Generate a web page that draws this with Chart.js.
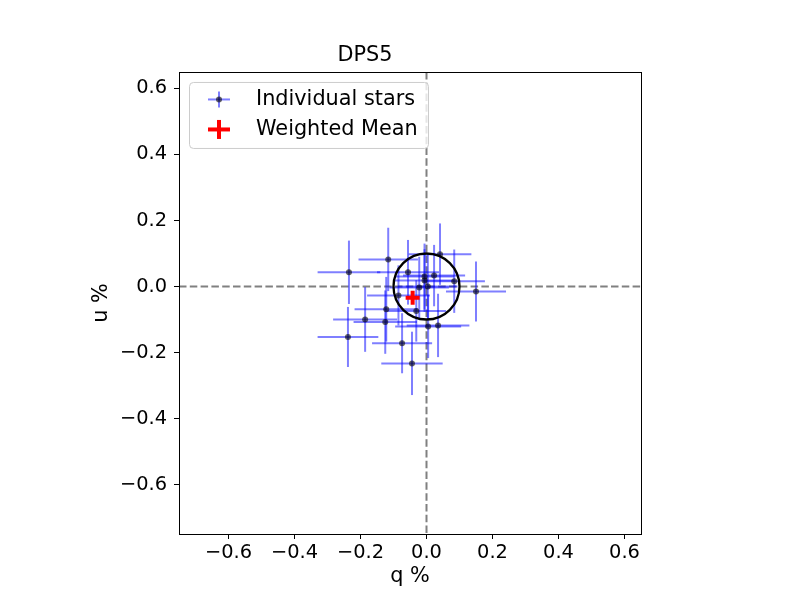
<!DOCTYPE html>
<html><head><meta charset="utf-8">
<script src="https://cdn.jsdelivr.net/npm/chart.js@4.4.1/dist/chart.umd.min.js"></script>
<style>html,body{margin:0;padding:0;background:#fff}canvas{display:block}</style>
</head><body>
<canvas id="c" width="800" height="600"></canvas>
<script>
const TITLE = 'DPS5';
const X_LABEL = 'q %';
const Y_LABEL = 'u %';
const TICKS = [-0.6, -0.4, -0.2, 0.0, 0.2, 0.4, 0.6];
const AXIS_MIN = -0.75, AXIS_MAX = 0.65;
const LEGEND_LABELS = ['Individual stars', 'Weighted Mean'];

const STAR_Q    = [-0.235, -0.116, -0.056, 0.041, 0.023, -0.006, -0.006, 0.084, 0.004, -0.022, -0.085, 0.150, -0.122, -0.031, -0.186, -0.125, 0.005, 0.035, -0.238, -0.074, -0.044];
const STAR_U    = [0.043, 0.082, 0.043, 0.098, 0.033, 0.030, 0.018, 0.016, 0.000, -0.003, -0.027, -0.015, -0.069, -0.074, -0.100, -0.108, -0.121, -0.118, -0.153, -0.172, -0.233];
const STAR_QERR = [0.095, 0.090, 0.094, 0.095, 0.094, 0.090, 0.090, 0.093, 0.090, 0.090, 0.095, 0.091, 0.096, 0.090, 0.097, 0.096, 0.100, 0.095, 0.092, 0.091, 0.093];
const STAR_UERR = [0.096, 0.096, 0.098, 0.093, 0.093, 0.100, 0.095, 0.096, 0.098, 0.093, 0.091, 0.091, 0.098, 0.093, 0.098, 0.096, 0.096, 0.096, 0.091, 0.091, 0.096];

const MEAN_Q = [-0.042];
const MEAN_U = [-0.034];
const CIRCLE_R = 0.1;

const FONT = 'DejaVu Sans';
const BIG = 20.8, TICK = 19.4;
const fmt = v => (v < -1e-9 ? '\u2212' : '') + Math.abs(v).toFixed(1);

const bgPlugin = {
  id: 'bg',
  beforeDraw(chart) {
    const c = chart.ctx;
    c.save(); c.fillStyle = '#fff'; c.fillRect(0, 0, chart.width, chart.height); c.restore();
  }
};

const underlay = {
  id: 'underlay',
  beforeDatasetsDraw(chart) {
    const c = chart.ctx, ca = chart.chartArea, xs = chart.scales.x, ys = chart.scales.y;
    c.save();
    c.beginPath(); c.rect(ca.left, ca.top, ca.right - ca.left, ca.bottom - ca.top); c.clip();
    c.strokeStyle = '#808080'; c.lineWidth = 2; c.setLineDash([7.5, 3.3]);
    const x0 = xs.getPixelForValue(0), y0 = ys.getPixelForValue(0);
    c.beginPath(); c.moveTo(ca.left, y0); c.lineTo(ca.right, y0); c.stroke();
    c.beginPath(); c.moveTo(x0, ca.top); c.lineTo(x0, ca.bottom); c.stroke();
    c.setLineDash([]);
    c.strokeStyle = 'rgba(0,0,255,0.5)'; c.lineWidth = 2;
    for (let i = 0; i < STAR_Q.length; i++) {
      const px = xs.getPixelForValue(STAR_Q[i]), py = ys.getPixelForValue(STAR_U[i]);
      c.beginPath();
      c.moveTo(xs.getPixelForValue(STAR_Q[i] - STAR_QERR[i]), py);
      c.lineTo(xs.getPixelForValue(STAR_Q[i] + STAR_QERR[i]), py);
      c.stroke();
      c.beginPath();
      c.moveTo(px, ys.getPixelForValue(STAR_U[i] - STAR_UERR[i]));
      c.lineTo(px, ys.getPixelForValue(STAR_U[i] + STAR_UERR[i]));
      c.stroke();
    }
    c.restore();
  },
  afterDatasetDraw(chart, args) {
    if (args.index !== 0) return;
    const c = chart.ctx, xs = chart.scales.x, ys = chart.scales.y;
    const cx = xs.getPixelForValue(0), cy = ys.getPixelForValue(0);
    const r = xs.getPixelForValue(CIRCLE_R) - cx;
    c.save(); c.strokeStyle = '#000'; c.lineWidth = 2.3;
    c.beginPath(); c.arc(cx, cy, r, 0, Math.PI * 2); c.stroke(); c.restore();
  },
  afterDraw(chart) {
    const c = chart.ctx, ca = chart.chartArea;
    c.save();
    c.strokeStyle = '#000'; c.lineWidth = 1;
    c.strokeRect(Math.round(ca.left) + 0.5, Math.round(ca.top) + 0.5, Math.round(ca.right - ca.left), Math.round(ca.bottom - ca.top));
    const bx = ca.left + 10.5, by = ca.top + 10.5, bw = 239, bh = 66, r = 4;
    c.beginPath();
    c.moveTo(bx + r, by); c.lineTo(bx + bw - r, by); c.arcTo(bx + bw, by, bx + bw, by + r, r);
    c.lineTo(bx + bw, by + bh - r); c.arcTo(bx + bw, by + bh, bx + bw - r, by + bh, r);
    c.lineTo(bx + r, by + bh); c.arcTo(bx, by + bh, bx, by + bh - r, r);
    c.lineTo(bx, by + r); c.arcTo(bx, by, bx + r, by, r); c.closePath();
    c.fillStyle = 'rgba(255,255,255,0.8)'; c.fill();
    c.strokeStyle = '#cccccc'; c.stroke();
    const mx = ca.left + 40, my1 = ca.top + 27.5, my2 = ca.top + 57.5;
    c.strokeStyle = 'rgba(0,0,255,0.5)'; c.lineWidth = 2;
    c.beginPath(); c.moveTo(mx - 11, my1); c.lineTo(mx + 11, my1); c.stroke();
    c.beginPath(); c.moveTo(mx, my1 - 8); c.lineTo(mx, my1 + 8); c.stroke();
    c.fillStyle = 'rgba(0,0,0,0.6)';
    c.beginPath(); c.arc(mx, my1, 3, 0, Math.PI * 2); c.fill();
    c.strokeStyle = '#ff0000'; c.lineWidth = 4;
    c.beginPath(); c.moveTo(mx - 11, my2); c.lineTo(mx + 11, my2); c.stroke();
    c.beginPath(); c.moveTo(mx, my2 - 9.5); c.lineTo(mx, my2 + 9.5); c.stroke();
    c.fillStyle = '#000'; c.font = BIG + 'px "' + FONT + '"'; c.textBaseline = 'middle'; c.textAlign = 'left';
    c.fillText(LEGEND_LABELS[0], ca.left + 77, my1 + 0.5);
    c.fillText(LEGEND_LABELS[1], ca.left + 77, my2 + 0.5);
    c.restore();
  }
};

const axisCommon = (label, fitFn, pad) => ({
  type: 'linear', min: AXIS_MIN, max: AXIS_MAX,
  afterBuildTicks: s => { s.ticks = TICKS.map(v => ({ value: v })); },
  afterFit: fitFn,
  grid: { drawOnChartArea: false, drawTicks: true, tickLength: 5, color: '#000', tickColor: '#000', tickWidth: 1 },
  border: { display: false },
  ticks: { font: { size: TICK, family: FONT }, color: '#000', padding: pad, callback: fmt, maxRotation: 0, autoSkip: false },
  title: { display: true, text: label, font: { size: BIG, family: FONT }, color: '#000', padding: 0 }
});

new Chart(document.getElementById('c'), {
  type: 'scatter',
  data: {
    datasets: [
      { label: LEGEND_LABELS[0], data: STAR_Q.map((q, i) => ({ x: q, y: STAR_U[i] })),
        pointRadius: 3, pointBackgroundColor: 'rgba(0,0,0,0.6)', pointBorderWidth: 0, pointBorderColor: 'rgba(0,0,0,0)' },
      { label: LEGEND_LABELS[1], data: MEAN_Q.map((q, i) => ({ x: q, y: MEAN_U[i] })),
        pointStyle: 'cross', pointRadius: 7, pointBorderWidth: 4, pointBorderColor: '#ff0000', pointBackgroundColor: '#ff0000' }
    ]
  },
  options: {
    responsive: false, animation: false, devicePixelRatio: 1,
    layout: { padding: { left: 89, right: 159, top: 0, bottom: 11 } },
    plugins: {
      legend: { display: false }, tooltip: { enabled: false },
      title: { display: true, text: TITLE, color: '#000', font: { size: BIG, family: FONT, weight: 'normal' }, padding: { top: 43.5, bottom: 3.5 } }
    },
    scales: {
      x: axisCommon(X_LABEL, s => { s.height = 55; }, 2),
      y: axisCommon(Y_LABEL, s => { s.width = 90; }, 7)
    }
  },
  plugins: [bgPlugin, underlay]
});
</script>
</body></html>
